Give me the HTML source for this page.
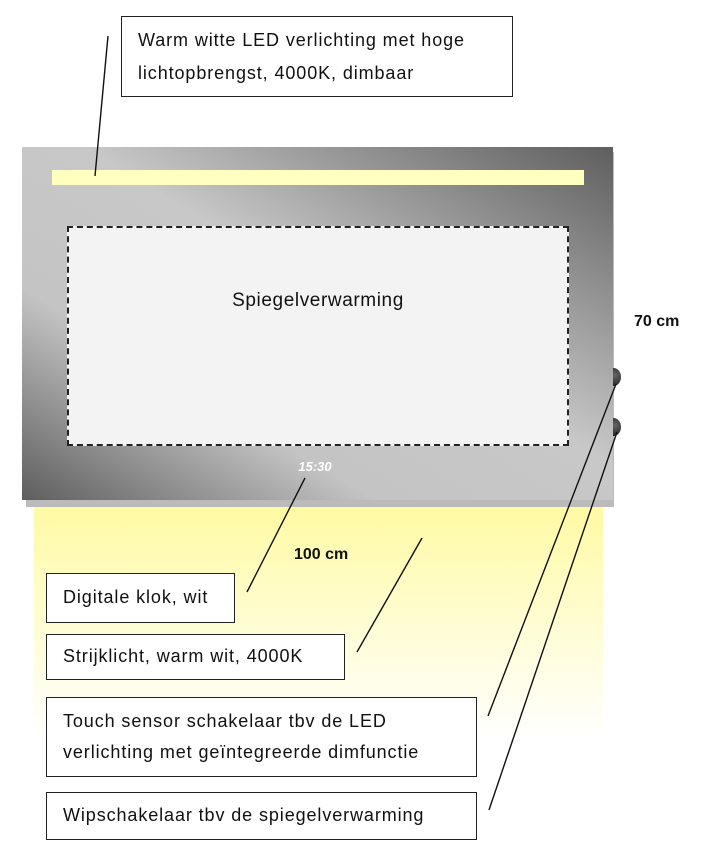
<!DOCTYPE html>
<html><head><meta charset="utf-8"><style>
html,body{margin:0;padding:0;background:#fff;}
body{width:712px;height:847px;position:relative;overflow:hidden;font-family:"Liberation Sans",sans-serif;}
.abs{position:absolute;}
.box{position:absolute;border:1.5px solid #222;background:#fff;box-sizing:border-box;font-size:18px;letter-spacing:0.9px;color:#111;padding-left:16px;white-space:nowrap;}
</style></head><body>
<div class="abs" style="left:34px;top:500px;width:569px;height:240px;background:linear-gradient(to bottom,#fffaa0 0%,#fffcc8 40%,#fff 100%);"></div>
<div class="abs" style="left:26px;top:152px;width:588px;height:355px;background:#bbb;"></div>
<div class="abs" style="left:22px;top:147px;width:591px;height:353px;background:linear-gradient(to top right,#5e5e5e 0%,#c4c4c4 30%,#c8c8c8 55%,#5e5e5e 100%);"></div>
<div class="abs" style="left:52px;top:170px;width:532px;height:15px;background:#ffffc0;"></div>
<div class="abs" style="left:67px;top:226px;width:502px;height:220px;background:#f3f3f3;border:2px dashed #222;box-sizing:border-box;"></div>
<div class="abs" style="left:67px;top:290px;width:502px;text-align:center;font-size:19px;letter-spacing:0.6px;color:#111;">Spiegelverwarming</div>
<div class="abs" style="left:290px;top:459px;width:50px;text-align:center;font-size:13px;color:#fff;font-style:italic;font-weight:bold;">15:30</div>
<div class="abs" style="left:606px;top:368px;width:15px;height:18px;border-radius:50%;background:radial-gradient(circle at 60% 40%,#666,#111);clip-path:inset(0 0 0 7px);"></div>
<div class="abs" style="left:606px;top:418px;width:15px;height:18px;border-radius:50%;background:radial-gradient(circle at 60% 40%,#666,#111);clip-path:inset(0 0 0 7px);"></div>
<div class="abs" style="left:634px;top:313px;font-size:16px;font-weight:bold;color:#111;">70 cm</div>
<div class="abs" style="left:294px;top:546px;font-size:16px;font-weight:bold;color:#111;">100 cm</div>
<svg class="abs" style="left:0;top:0" width="712" height="847">
<g stroke="#111" stroke-width="1.4">
<line x1="108" y1="36" x2="95" y2="176"/>
<line x1="305" y1="478" x2="247" y2="592"/>
<line x1="422" y1="538" x2="357" y2="652"/>
<line x1="616" y1="384" x2="488" y2="716"/>
<line x1="617" y1="432" x2="489" y2="810"/>
</g></svg>
<div class="box" style="left:121px;top:16px;width:392px;height:81px;line-height:33px;padding-top:7px;">Warm witte LED verlichting met hoge<br>lichtopbrengst, 4000K, dimbaar</div>
<div class="box" style="left:46px;top:573px;width:189px;height:50px;line-height:47px;">Digitale klok, wit</div>
<div class="box" style="left:46px;top:634px;width:299px;height:46px;line-height:43px;">Strijklicht, warm wit, 4000K</div>
<div class="box" style="left:46px;top:697px;width:431px;height:80px;line-height:31px;padding-top:8px;">Touch sensor schakelaar tbv de LED<br>verlichting met geïntegreerde dimfunctie</div>
<div class="box" style="left:46px;top:792px;width:431px;height:48px;line-height:45px;">Wipschakelaar tbv de spiegelverwarming</div>
</body></html>
